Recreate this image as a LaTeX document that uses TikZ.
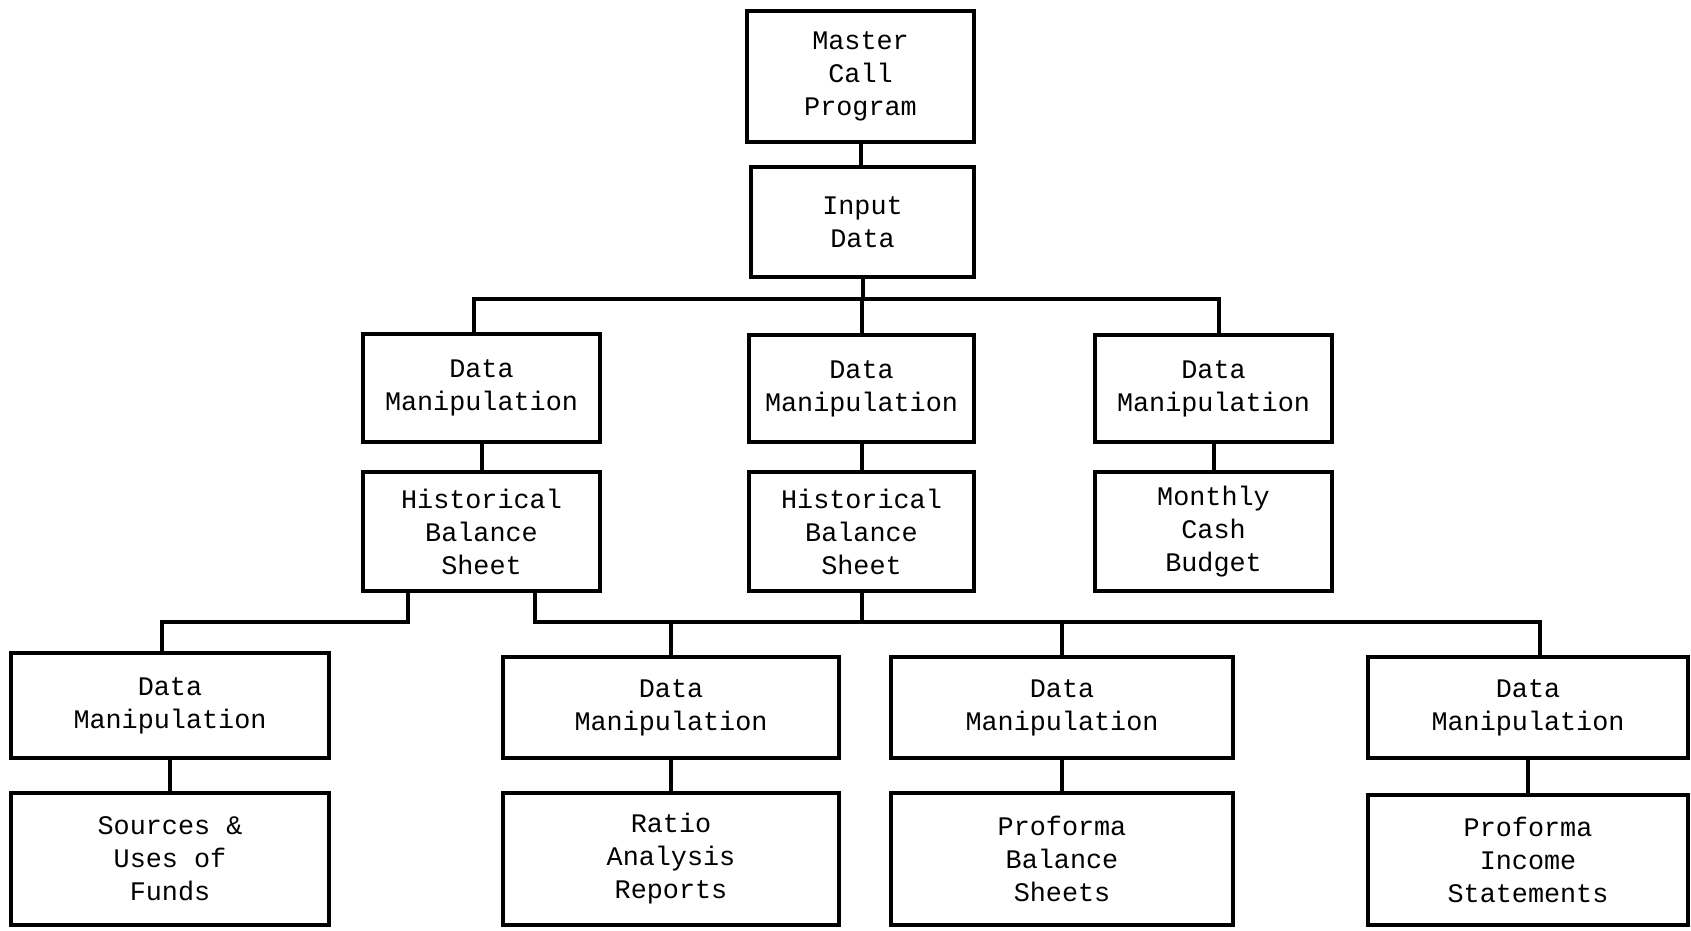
\documentclass[tikz,border=0pt]{standalone}
\usepackage{fontspec}
\setmonofont{Liberation Mono}
\begin{document}
\begin{tikzpicture}[x=0.5pt,y=-0.5pt,
  box/.style={draw, line width=2.2pt, inner sep=0pt, align=center,
    font=\ttfamily\fontsize{13.4}{16.5}\selectfont},
  conn/.style={line width=2pt, line join=miter}]
\useasboundingbox (0,0) rectangle (1691,931);
% level 0-1
\node[box, minimum width=113.5pt, minimum height=65.5pt] (master) at (860.5,76.5) {Master\\Call\\Program};
\node[box, minimum width=111.5pt, minimum height=55pt] (input) at (862.5,222) {Input\\Data};
% level 2
\node[box, minimum width=118.5pt, minimum height=54pt] (dm1) at (481.5,388) {Data\\Manipulation};
\node[box, minimum width=112.5pt, minimum height=53.5pt] (dm2) at (861.5,388.5) {Data\\Manipulation};
\node[box, minimum width=118.5pt, minimum height=53.5pt] (dm3) at (1213.5,388.5) {Data\\Manipulation};
% level 3
\node[box, minimum width=118.5pt, minimum height=59.5pt] (hbs1) at (481.5,531.5) {Historical\\Balance\\Sheet};
\node[box, minimum width=112.5pt, minimum height=59.5pt] (hbs2) at (861.5,531.5) {Historical\\Balance\\Sheet};
\node[box, minimum width=118.5pt, minimum height=59.5pt] (mcb) at (1213.5,531.5) {Monthly\\Cash\\Budget};
% level 4
\node[box, minimum width=159pt, minimum height=52.5pt] (dm4a) at (170,705.5) {Data\\Manipulation};
\node[box, minimum width=168pt, minimum height=50.5pt] (dm4b) at (671,707.5) {Data\\Manipulation};
\node[box, minimum width=171pt, minimum height=50.5pt] (dm4c) at (1062,707.5) {Data\\Manipulation};
\node[box, minimum width=160pt, minimum height=50.5pt] (dm4d) at (1528,707.5) {Data\\Manipulation};
% level 5
\node[box, minimum width=159pt, minimum height=66pt] (src) at (170,859) {Sources \&\\Uses of\\Funds};
\node[box, minimum width=168pt, minimum height=66pt] (ratio) at (671,859) {Ratio\\Analysis\\Reports};
\node[box, minimum width=171pt, minimum height=66pt] (pbs) at (1062,859) {Proforma\\Balance\\Sheets};
\node[box, minimum width=160pt, minimum height=65pt] (pis) at (1528,860) {Proforma\\Income\\Statements};
% connectors top
\draw[conn] (master.south) -- (master.south |- input.north);
\coordinate (l1) at (474,299);
\coordinate (r1) at (1219,299);
\draw[conn] (input.south) -- (input.south |- l1);
\draw[conn] (l1 |- dm1.north) -- (l1) -- (r1) -- (r1 |- dm3.north);
\draw[conn] (dm2.north) -- (dm2.north |- l1);
\draw[conn] (dm1) -- (hbs1);
\draw[conn] (dm2) -- (hbs2);
\draw[conn] (dm3) -- (mcb);
% lower bus
\coordinate (a) at (408,622);
\coordinate (b) at (162,622);
\coordinate (c) at (535,622);
\coordinate (d) at (1540,622);
\draw[conn] (a |- hbs1.south) -- (a) -- (b) -- (b |- dm4a.north);
\draw[conn] (c |- hbs1.south) -- (c) -- (d) -- (d |- dm4d.north);
\draw[conn] (hbs2.south) -- (hbs2.south |- c);
\draw[conn] (dm4b.north |- c) -- (dm4b.north);
\draw[conn] (dm4c.north |- c) -- (dm4c.north);
% to bottom
\draw[conn] (dm4a) -- (src);
\draw[conn] (dm4b) -- (ratio);
\draw[conn] (dm4c) -- (pbs);
\draw[conn] (dm4d) -- (pis);
\end{tikzpicture}
\end{document}
